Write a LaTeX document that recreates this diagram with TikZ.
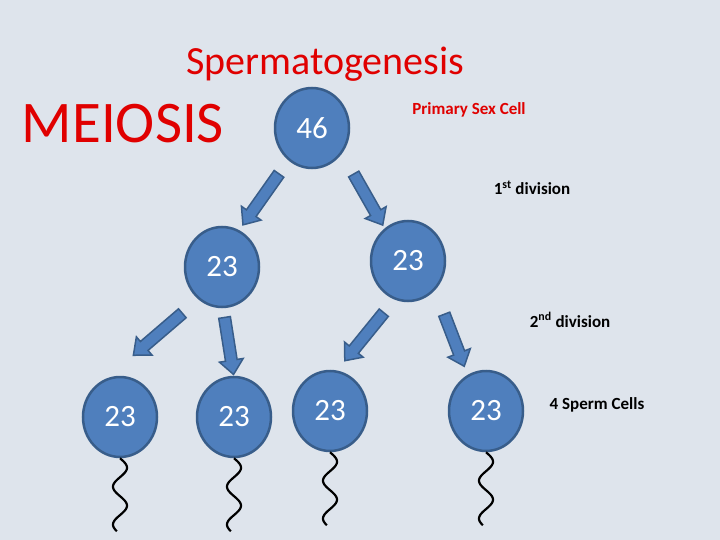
\documentclass[tikz,border=0pt]{standalone}
\usepackage{fontspec}
\setmainfont{Carlito}
\usetikzlibrary{shapes.geometric,shapes.arrows,calc}
\definecolor{bg}{HTML}{DEE4EC}
\definecolor{cfill}{HTML}{4F7FBD}
\definecolor{cline}{HTML}{385D8A}
\definecolor{tred}{HTML}{E00000}
\tikzset{
  cell/.style={ellipse,fill=cfill,draw=cline,line width=2.5pt,minimum width=74pt,minimum height=80pt,inner sep=0pt,text=white,font=\fontsize{31}{31}\selectfont},
  sarrow/.style={single arrow,fill=cfill,draw=cline,line width=1.5pt,minimum width=24pt,inner xsep=0pt,inner ysep=5pt,single arrow head extend=6pt,single arrow tip angle=80},
  tail/.style={line width=2.2pt,black},
  lbl/.style={font=\bfseries\fontsize{17}{17}\selectfont}
}
\newcommand\barrow[2]{%
  \path let \p1=($(#2)-(#1)$), \n1={atan2(\y1,\x1)}, \n2={veclen(\x1,\y1)} in
    node[sarrow,minimum height=\n2,rotate=\n1] at ($(#1)!0.5!(#2)$) {};
}
\newcommand\wtail[1]{%
  \draw[tail,shift={(#1)}] plot[domain=0:73,samples=80,smooth] ({7*sin(\x*9.5)},\x);
}
\begin{document}
\begin{tikzpicture}[x=1pt,y=-1pt]
\fill[bg] (0,0) rectangle (720,540);
\useasboundingbox (0,0) rectangle (720,540);
\node[text=tred,font=\fontsize{40}{40}\selectfont] (title) at (325,64) {Spermatogenesis};
\node[text=tred,font=\fontsize{59}{59}\selectfont] (meiosis) at (123,124) {MEIOSIS};
\node[text=tred,lbl] (psc) at (469,110) {Primary Sex Cell};
\node[lbl] (d1) at (532,188) {1\textsuperscript{st} division};
\node[lbl] (d2) at (570,320) {2\textsuperscript{nd} division};
\node[lbl] (four) at (597,405) {4 Sperm Cells};
\node[cell] (c0) at (312,128) {46};
\node[cell] (c1) at (222,267) {23};
\node[cell] (c2) at (408,261) {23};
\node[cell] (b1) at (120,417) {23};
\node[cell] (b2) at (234,417) {23};
\node[cell] (b3) at (330,411) {23};
\node[cell] (b4) at (486,411) {23};
\coordinate (a1s) at (281,171); \coordinate (a1e) at (245,222);
\coordinate (a2s) at (352,171); \coordinate (a2e) at (381,222);
\coordinate (a3s) at (185,311); \coordinate (a3e) at (136,353);
\coordinate (a4s) at (224,314); \coordinate (a4e) at (233,371);
\coordinate (a5s) at (386,310); \coordinate (a5e) at (347,358);
\coordinate (a6s) at (443,311); \coordinate (a6e) at (463,363);
\barrow{a1s}{a1e}\barrow{a2s}{a2e}\barrow{a3s}{a3e}
\barrow{a4s}{a4e}\barrow{a5s}{a5e}\barrow{a6s}{a6e}
\coordinate (t1) at (b1.south); \coordinate (t2) at (b2.south);
\coordinate (t3) at (b3.south); \coordinate (t4) at (b4.south);
\wtail{t1}\wtail{t2}\wtail{t3}\wtail{t4}
\end{tikzpicture}
\end{document}
